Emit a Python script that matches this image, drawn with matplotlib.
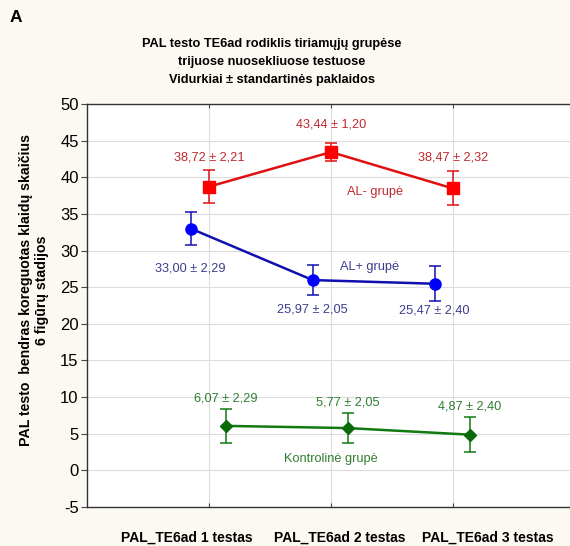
import matplotlib.pyplot as plt
import matplotlib.transforms as mtransforms
import numpy as np

plt.rcParams['font.family'] = ['Liberation Sans', 'DejaVu Sans']
plt.rcParams['axes.unicode_minus'] = False

tests = ["PAL_TE6ad 1 testas", "PAL_TE6ad 2 testas", "PAL_TE6ad 3 testas"]

al_minus_mean = [38.72, 43.44, 38.47]
al_minus_se = [2.21, 1.20, 2.32]
al_plus_mean = [33.00, 25.97, 25.47]
al_plus_se = [2.29, 2.05, 2.40]
control_mean = [6.07, 5.77, 4.87]
control_se = [2.29, 2.05, 2.40]

group_names = ["AL- grupė", "AL+ grupė", "Kontrolinė grupė"]

bg = "#fcf9f2"
fig = plt.figure(figsize=(5.70, 5.46), dpi=100, facecolor=bg)
ax = fig.add_axes([87 / 570, 39 / 546, 488 / 570, 403 / 546])
ax.set_facecolor("white")

x = np.arange(1, 4)

def fmt(v):
    return f"{v:.2f}".replace(".", ",")

# (means, errors, x shift, marker, line colour, marker colour, text colour, marker size, label offsets)
series = [
    (al_minus_mean, al_minus_se, 0.0, "s", "#e01010", "#ff0000", "#c0282d", 8, [4.0, 3.8, 4.2]),
    (al_plus_mean, al_plus_se, -0.15, "o", "#1010b0", "#0000ff", "#3c3c8c", 8, [-5.4, -4.0, -3.6]),
    (control_mean, control_se, 0.14, "D", "#107a10", "#0a6a0a", "#2e7d2e", 6, [3.8, 3.5, 3.9]),
]

for mean, se, shift, mk, lc, mc, tc, ms, offs in series:
    xs = x + shift
    ax.errorbar(xs, mean, yerr=se, fmt="none", ecolor=lc, elinewidth=1.1,
                capsize=4, capthick=1.1, zorder=3)
    ax.plot(xs, mean, "-", color=lc, lw=1.8, zorder=4)
    ax.plot(xs, mean, mk, color=mc, markersize=ms, zorder=5)
    for xi, m, s, o in zip(xs, mean, se, offs):
        ax.text(xi, m + o, f"{fmt(m)} ± {fmt(s)}", color=tc, fontsize=9.2,
                ha="center", va="center")

ax.text(2.36, 38.0, group_names[0], color="#c0282d", fontsize=9.2, ha="center", va="center")
ax.text(2.32, 27.7, group_names[1], color="#3c3c8c", fontsize=9.2, ha="center", va="center")
ax.text(2.0, 1.55, group_names[2], color="#2e7d2e", fontsize=9.2, ha="center", va="center")

ax.set_xlim(0, 4)
ax.set_ylim(-5, 50)
ax.set_yticks(np.arange(-5, 51, 5))
ax.set_xticks(x)
ax.set_xticklabels(tests, fontsize=10, fontweight="bold")
ax.tick_params(axis="y", direction="out", length=4, labelsize=12, pad=2, color="#444444")
ax.tick_params(axis="x", direction="in", length=3, pad=17, top=True, color="#444444")

# tick labels sit spread out, not centred under their ticks
for lab, dx in zip(ax.get_xticklabels(), [-22, 9, 35]):
    lab.set_transform(lab.get_transform() + mtransforms.ScaledTranslation(dx / 100, 0, fig.dpi_scale_trans))

ax.grid(True, color="#dcdcdc", lw=0.8)
ax.set_axisbelow(True)
for side in ["left", "top", "bottom"]:
    ax.spines[side].set_color("#333333")
    ax.spines[side].set_linewidth(1.0)
ax.spines["right"].set_visible(False)

fig.text(34 / 570, 1 - 290 / 546,
         "PAL testo  bendras koreguotas klaidų skaičius\n6 figūrų stadijos",
         rotation=90, fontsize=10.2, fontweight="bold", ha="center", va="center",
         linespacing=1.2)

fig.text(272 / 570, 1 - 62 / 546, "PAL testo TE6ad rodiklis tiriamųjų grupėse\ntrijuose nuosekliuose testuose\n"
         "Vidurkiai ± standartinės paklaidos", ha="center", va="center",
         fontsize=9.2, fontweight="bold", linespacing=1.62)
fig.text(10 / 570, 1 - 17 / 546, "A", fontsize=12.5, fontweight="bold", ha="left", va="center")

fig.savefig("out.png", dpi=100, facecolor=bg)
